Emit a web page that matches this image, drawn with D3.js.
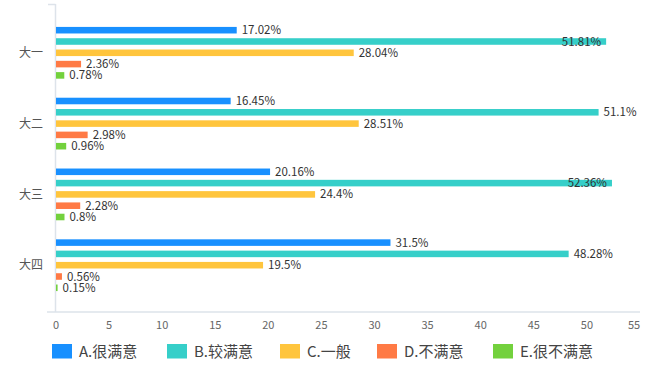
<!DOCTYPE html>
<html><head><meta charset="utf-8">
<script src="https://cdn.jsdelivr.net/npm/d3@7"></script>
<style>
html,body{margin:0;padding:0;background:#fff;}
svg{display:block;font-family:"Microsoft YaHei","Noto Sans CJK SC","Noto Sans",sans-serif;}
</style></head>
<body><svg id="chart" width="648" height="379"></svg>
<script>
const categories = ["大一", "大二", "大三", "大四"];
const seriesNames = ["A.很满意", "B.较满意", "C.一般", "D.不满意", "E.很不满意"];
const seriesA = [17.02, 16.45, 20.16, 31.5];
const seriesB = [51.81, 51.1, 52.36, 48.28];
const seriesC = [28.04, 28.51, 24.4, 19.5];
const seriesD = [2.36, 2.98, 2.28, 0.56];
const seriesE = [0.78, 0.96, 0.8, 0.15];
const seriesValues = [seriesA, seriesB, seriesC, seriesD, seriesE];
const labelTexts = [
  ["17.02%", "16.45%", "20.16%", "31.5%"],
  ["51.81%", "51.1%", "52.36%", "48.28%"],
  ["28.04%", "28.51%", "24.4%", "19.5%"],
  ["2.36%", "2.98%", "2.28%", "0.56%"],
  ["0.78%", "0.96%", "0.8%", "0.15%"]
];
const xTicks = [0, 5, 10, 15, 20, 25, 30, 35, 40, 45, 50, 55];
const colors = ["#1890ff", "#36cfc9", "#ffc53d", "#ff7a45", "#73d13d"];

const svg = d3.select("#chart");
const x = d3.scaleLinear().domain([0, 55]).range([56, 640]);
const y0 = d3.scaleBand().domain(categories).range([17.4, 300.6]).padding(0);
const y1 = d3.scaleBand().domain(seriesNames).range([0, y0.bandwidth() * 0.798])
  .paddingInner(0.42).paddingOuter(0.21);
const innerOffset = (y0.bandwidth() - y1.range()[1]) / 2;

// axes lines
svg.append("line").attr("x1", 55.5).attr("x2", 55.5).attr("y1", 4).attr("y2", 312)
  .attr("stroke", "#dde3ea").attr("stroke-width", 1.5);
svg.append("line").attr("x1", 48).attr("x2", 55.5).attr("y1", 4.5).attr("y2", 4.5)
  .attr("stroke", "#dde3ea").attr("stroke-width", 1.5);
svg.append("line").attr("x1", 47).attr("x2", 640).attr("y1", 312).attr("y2", 312)
  .attr("stroke", "#dde3ea").attr("stroke-width", 1.5);

// x tick labels
svg.append("g").selectAll("text").data(xTicks).join("text")
  .attr("x", (d, i) => x(d) - (i === xTicks.length - 1 ? 6 : 0)).attr("y", 325).attr("dy", "0.35em")
  .attr("text-anchor", "middle").attr("font-size", 11).attr("fill", "#666")
  .text(d => d);

// y category labels
svg.append("g").selectAll("text").data(categories).join("text")
  .attr("x", 43).attr("y", d => y0(d) + y0.bandwidth() / 2).attr("dy", "0.35em")
  .attr("text-anchor", "end").attr("font-size", 12).attr("fill", "#555")
  .text(d => d);

// bars
const groups = svg.append("g").selectAll("g").data(categories).join("g")
  .attr("transform", d => `translate(0,${y0(d) + innerOffset})`);

groups.each(function(cat, ci) {
  const g = d3.select(this);
  seriesNames.forEach((s, si) => {
    const v = seriesValues[si][ci];
    const yy = y1(s);
    g.append("rect").attr("x", x(0)).attr("y", yy)
      .attr("width", Math.max(1, x(v) - x(0))).attr("height", y1.bandwidth())
      .attr("fill", colors[si]);
    const t = g.append("text").attr("x", x(v) + 5).attr("y", yy + y1.bandwidth() / 2)
      .attr("dy", "0.35em").attr("font-size", 11.5).attr("fill", "#333")
      .text(labelTexts[si][ci]);
    const w = t.node().getComputedTextLength();
    if (x(v) + 5 + w > 642) {
      t.attr("x", x(v) - 5).attr("text-anchor", "end");
    }
  });
});

// legend
const legendX = [52, 167, 280, 377, 493];
const legend = svg.append("g");
seriesNames.forEach((s, i) => {
  legend.append("rect").attr("x", legendX[i]).attr("y", 344).attr("width", 20).attr("height", 14.5)
    .attr("fill", colors[i]);
  legend.append("text").attr("x", legendX[i] + 27).attr("y", 351.5).attr("dy", "0.35em")
    .attr("font-size", 15).attr("fill", "#444").text(s);
});
</script></body></html>
